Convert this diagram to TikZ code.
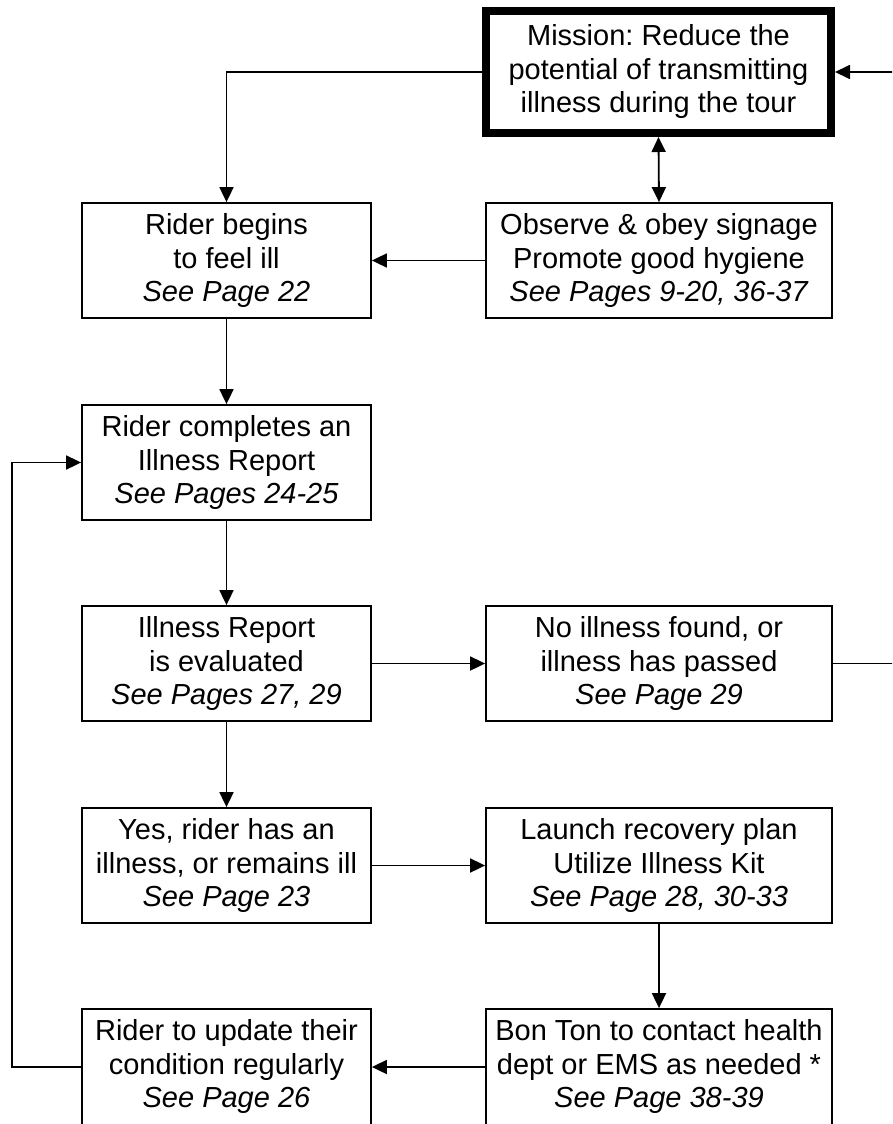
\documentclass[tikz,border=0pt]{standalone}
\usepackage{fontspec}
\setmainfont{Liberation Sans}
\usetikzlibrary{arrows.meta}
\frenchspacing
\begin{document}
\begin{tikzpicture}[x=1pt,y=-1pt,
  every node/.style={font=\frenchspacing\fontsize{29}{33.5}\selectfont, align=center, inner sep=0pt},
  boxL/.style={draw, line width=1.8pt, minimum width=289pt, minimum height=115pt},
  boxR/.style={draw, line width=1.8pt, minimum width=346pt, minimum height=115pt},
  mbox/.style={draw, line width=8pt, minimum width=345pt, minimum height=122pt},
  conn/.style={line width=1.8pt},
  arr/.style={conn, -{Triangle[length=15pt,width=14pt]}},
  darr/.style={conn, {Triangle[length=15pt,width=14pt]}-{Triangle[length=15pt,width=14pt]}}
]
\clip (0,0) rectangle (892,1124);
\fill[white] (0,0) rectangle (892,1124);

\node[mbox] (mission) at (658.5,72) {Mission: Reduce the\\potential of transmitting\\illness during the tour};
\node[boxR] (observe) at (659,260.5) {Observe \& obey signage\\Promote good hygiene\\\textit{See Pages 9-20, 36-37}};
\node[boxL] (begin) at (226.5,260.5) {Rider begins\\to feel ill\\\textit{See Page 22}};
\node[boxL] (complete) at (226.5,462.5) {Rider completes an\\Illness Report\\\textit{See Pages 24-25}};
\node[boxL] (evaluated) at (226.5,663.5) {Illness Report\\is evaluated\\\textit{See Pages 27, 29}};
\node[boxR] (noill) at (659,663.5) {No illness found, or\\illness has passed\\\textit{See Page 29}};
\node[boxL] (yes) at (226.5,865.5) {Yes, rider has an\\illness, or remains ill\\\textit{See Page 23}};
\node[boxR] (launch) at (659,865.5) {Launch recovery plan\\Utilize Illness Kit\\\textit{See Page 28, 30-33}};
\node[boxL, minimum height=125pt] (update) at (226.5,1071.5) {Rider to update their\\condition regularly\\\textit{See Page 26}\rule[-16pt]{0pt}{1pt}};
\node[boxR, minimum height=125pt] (bonton) at (659,1071.5) {Bon Ton to contact health\\dept or EMS as needed *\\\textit{See Page 38-39}\rule[-16pt]{0pt}{1pt}};

\coordinate (r1) at (895,72);
\coordinate (r2) at (895,663.5);
\coordinate (l1) at (12,1067);
\coordinate (u1) at (update.west |- l1);
\coordinate (b1) at (bonton.west |- l1);
\coordinate (ue) at (update.east |- l1);

\draw[arr] (mission.west) -| (begin.north);
\draw[darr] (mission.south) -- (observe.north);
\draw[arr] (r1) -- (mission.east);
\draw[arr] (observe.west) -- (begin.east);
\draw[arr] (begin.south) -- (complete.north);
\draw[arr] (complete.south) -- (evaluated.north);
\draw[arr] (evaluated.east) -- (noill.west);
\draw[conn] (noill.east) -- (r2);
\draw[arr] (evaluated.south) -- (yes.north);
\draw[arr] (yes.east) -- (launch.west);
\draw[arr] (launch.south) -- (bonton.north);
\draw[arr] (b1) -- (ue);
\draw[arr] (u1) -- (l1) |- (complete.west);
\end{tikzpicture}
\end{document}
